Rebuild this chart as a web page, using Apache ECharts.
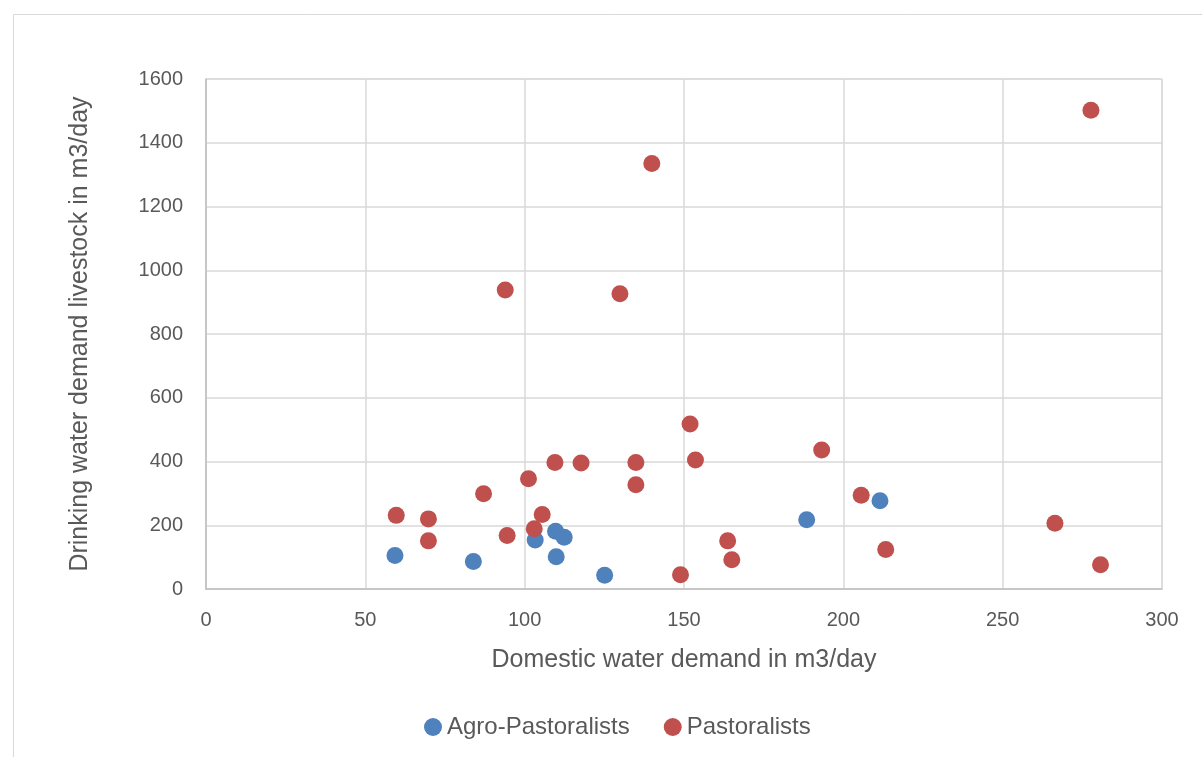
<!DOCTYPE html>
<html>
<head>
<meta charset="utf-8">
<script src="https://cdn.jsdelivr.net/npm/echarts@6/dist/echarts.min.js"></script>
<style>
html,body{margin:0;padding:0;background:#fff;}
#chart{width:1202px;height:757px;}
</style>
</head>
<body>
<div id="chart"></div>
<script>
var seriesNames = ['Agro-Pastoralists', 'Pastoralists'];
var agroX = [59.3, 83.9, 103.3, 109.7, 112.4, 109.9, 125.1, 188.5, 211.5];
var agroY = [105, 86, 154, 181, 162, 101, 43, 217, 277];
var pastX = [59.7, 69.8, 69.8, 87.1, 94.5, 101.2, 105.5, 103.0, 109.5, 117.7, 134.9, 134.9,
             151.9, 153.6, 148.9, 163.7, 165.0, 193.2, 205.6, 213.3, 266.4, 280.7,
             277.7, 139.9, 93.9, 129.9];
var pastY = [231, 220, 151, 299, 168, 346, 234, 189, 397, 395, 397, 327,
             518, 405, 45, 151, 92, 436, 294, 124, 206, 76,
             1502, 1335, 938, 926];
var xTicks = {min: 0, max: 300, interval: 50};
var yTicks = {min: 0, max: 1600, interval: 200};

function zip(a, b) { return a.map(function (v, i) { return [v, b[i]]; }); }

var chart = echarts.init(document.getElementById('chart'));
var labelColor = '#595959';
var fontFam = 'Liberation Sans';
chart.setOption({
  animation: false,
  graphic: [{
    type: 'rect', shape: {x: 13.5, y: 14.5, width: 1200, height: 760},
    style: {fill: 'none', stroke: '#D9D9D9', lineWidth: 1}, silent: true
  }],
  grid: {left: 206, top: 79, width: 956, height: 510, containLabel: false,
         show: true, borderColor: '#D9D9D9', borderWidth: 1},
  legend: {
    top: 715, left: 424, itemWidth: 18, itemHeight: 18, itemGap: 34,
    icon: 'circle', padding: 0,
    textStyle: {color: labelColor, fontSize: 24, fontFamily: fontFam},
    data: seriesNames
  },
  xAxis: {
    type: 'value', min: xTicks.min, max: xTicks.max, interval: xTicks.interval,
    name: 'Domestic water demand in m3/day', nameLocation: 'middle', nameGap: 59,
    nameTextStyle: {color: labelColor, fontSize: 25, fontFamily: fontFam},
    axisLine: {show: true, lineStyle: {color: '#BFBFBF', width: 1.5}},
    axisTick: {show: false},
    axisLabel: {color: labelColor, fontSize: 20, fontFamily: fontFam, margin: 21,
                formatter: function (v) { return String(v); }},
    splitLine: {show: true, lineStyle: {color: '#D9D9D9', width: 1.5}}
  },
  yAxis: {
    type: 'value', min: yTicks.min, max: yTicks.max, interval: yTicks.interval,
    name: 'Drinking water demand livestock in m3/day', nameLocation: 'middle', nameGap: 113,
    nameTextStyle: {color: labelColor, fontSize: 25, fontFamily: fontFam},
    axisLine: {show: true, lineStyle: {color: '#BFBFBF', width: 1.5}},
    axisTick: {show: false},
    axisLabel: {color: labelColor, fontSize: 20, fontFamily: fontFam, margin: 23,
                formatter: function (v) { return String(v); }},
    splitLine: {show: true, lineStyle: {color: '#D9D9D9', width: 1.5}}
  },
  series: [
    {name: seriesNames[0], type: 'scatter', symbolSize: 17, data: zip(agroX, agroY),
     itemStyle: {color: '#4F81BD', opacity: 1}},
    {name: seriesNames[1], type: 'scatter', symbolSize: 17, data: zip(pastX, pastY),
     itemStyle: {color: '#C0504D', opacity: 1}}
  ]
});
</script>
</body>
</html>
